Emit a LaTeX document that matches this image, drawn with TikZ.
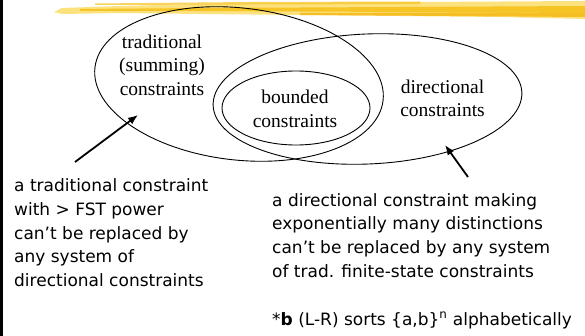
\documentclass[tikz,border=0pt]{standalone}
\usepackage{fontspec}
\setmainfont{Liberation Serif}
\newfontfamily\labelsans{DejaVu Sans}
\usetikzlibrary{arrows.meta}
\definecolor{brushA}{HTML}{F6C21C}
\definecolor{brushB}{HTML}{FCE27E}
\definecolor{brushC}{HTML}{F2B60E}
\begin{document}
\begin{tikzpicture}[x=1pt,y=-1pt,
  ell/.style={draw=black, line width=0.9pt},
  serif/.style={font=\fontsize{19.5}{23.3}\selectfont, align=center, inner sep=0pt},
  sans/.style={font=\labelsans\fontsize{17}{23.6}\selectfont, align=left, inner sep=0pt},
  arr/.style={line width=1.8pt, -{Latex[length=10pt,width=8pt]}}]
\useasboundingbox (0,0) rectangle (585,336);
\fill[white] (0,0) rectangle (585,336);
\fill[black] (0,0) rectangle (2.7,336);
% brush stroke
\fill[brushB] (54,12) -- (62,8) -- (120,6) -- (200,4) -- (300,3) -- (420,2) -- (585,1)
  -- (585,19) -- (500,17) -- (400,16) -- (300,15) -- (200,14) -- (120,13) -- (62,14) -- cycle;
\fill[brushA, opacity=0.9] (80,9) -- (200,8) -- (400,7) -- (585,6) -- (585,13) -- (400,12) -- (200,11) -- (80,11) -- cycle;
\fill[brushC, opacity=0.8] (300,13) -- (450,12.5) -- (585,13) -- (585,17) -- (450,16) -- (300,15) -- cycle;
\fill[brushA, opacity=0.7] (95,3.5) -- (250,2) -- (420,1.5) -- (420,4) -- (250,4.5) -- (95,5) -- cycle;
% ellipses
\draw[ell, rotate around={-6.5:(239,84)}] (239,84) ellipse [x radius=145, y radius=76];
\draw[ell, rotate around={2.5:(367.5,99)}] (367.5,99) ellipse [x radius=154.5, y radius=65];
\draw[ell] (296,108) ellipse [x radius=74, y radius=37];
% ellipse labels
\node[serif, anchor=north] (trad) at (162,34.7) {traditional\\(summing)\\constraints};
\node[serif, anchor=north] (bnd) at (295,90) {bounded\\constraints};
\node[serif, anchor=north] (dir) at (442.5,79.4) {directional\\constraints};
% texts
\node[sans, anchor=north west] (ltext) at (14,178.8) {a traditional constraint\\with > FST power\\can’t be replaced by\\any system of\\directional constraints};
\node[sans, anchor=north west] (rtext) at (272,193.1) {a directional constraint making\\exponentially many distinctions\\can’t be replaced by any system\\of trad. finite-state constraints};
\node[sans, anchor=base west] (note) at (272,325) {*\textbf{b} (L-R) sorts \{a,b\}\textsuperscript{n} alphabetically};
% arrows
\coordinate (ltail) at (75,162);
\coordinate (ltip) at (138,115);
\coordinate (rtail) at (468,177);
\coordinate (rtip) at (445,145);
\draw[arr] (ltail) -- (ltip);
\draw[arr] (rtail) -- (rtip);
\end{tikzpicture}
\end{document}
